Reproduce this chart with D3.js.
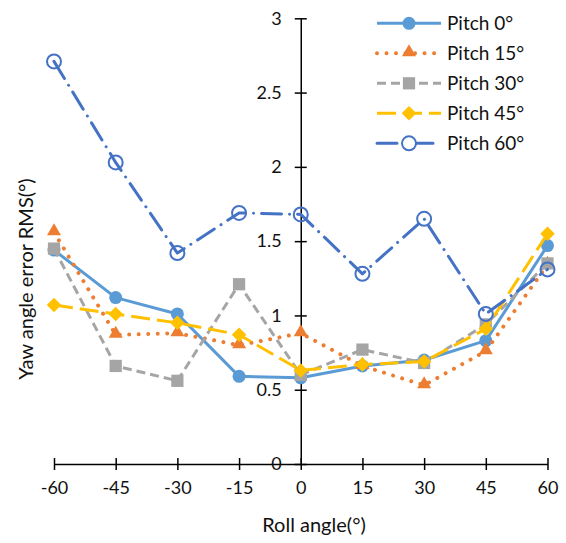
<!DOCTYPE html>
<html><head><meta charset="utf-8">
<script src="https://cdn.jsdelivr.net/npm/d3@7"></script>
<style>body{margin:0;background:#fff}svg{display:block}text{font-family:Lato,"Noto Sans",sans-serif;fill:#111}</style>
</head><body><svg id="c" width="566" height="543"></svg>
<script>
const rolls = [-60,-45,-30,-15,0,15,30,45,60];
const pitch0  = [1.44,1.12,1.01,0.59,0.58,0.66,0.70,0.83,1.47];
const pitch15 = [1.56,0.87,0.88,0.80,0.88,0.66,0.53,0.76,1.34];
const pitch30 = [1.45,0.66,0.56,1.21,0.60,0.77,0.68,0.94,1.35];
const pitch45 = [1.07,1.01,0.95,0.87,0.63,0.67,0.69,0.91,1.55];
const pitch60 = [2.71,2.03,1.42,1.69,1.68,1.28,1.65,1.01,1.31];
const seriesNames = ["Pitch 0°","Pitch 15°","Pitch 30°","Pitch 45°","Pitch 60°"];
const yTicks = [0,0.5,1,1.5,2,2.5,3];
const xTicks = rolls;

const svg = d3.select("#c");
const x = d3.scaleLinear().domain([-60,60]).range([54,547.5]);
const y = d3.scaleLinear().domain([0,3]).range([464,18.3]);

// axes
const xAxis = svg.append("g").attr("transform",`translate(0,${y(0)})`)
  .call(d3.axisBottom(x).tickValues(xTicks).tickSize(5).tickSizeOuter(0).tickFormat(d=>d));
xAxis.select(".domain").attr("stroke","#000").attr("stroke-width",1.5);
xAxis.selectAll(".tick line").attr("y1",-6).attr("y2",6).attr("stroke","#000").attr("stroke-width",1.5);
xAxis.selectAll(".tick text").attr("y",17).attr("font-size",18).attr("font-family","Lato");

const yAxis = svg.append("g").attr("transform",`translate(${x(0)},0)`)
  .call(d3.axisLeft(y).tickValues(yTicks).tickSize(5).tickSizeOuter(0).tickFormat(d=>d));
yAxis.select(".domain").attr("stroke","#000").attr("stroke-width",1.5);
yAxis.selectAll(".tick line").attr("x1",-6).attr("x2",6).attr("stroke","#000").attr("stroke-width",1.5);
yAxis.selectAll(".tick text").attr("x",-19).attr("font-size",18).attr("font-family","Lato");

// titles
svg.append("text").attr("x",314).attr("y",532).attr("text-anchor","middle").attr("font-size",20).text("Roll angle(°)");
svg.append("text").attr("transform","translate(33,279) rotate(-90)").attr("text-anchor","middle").attr("font-size",20).text("Yaw angle error RMS(°)");

const styles = [
  {c:"#5B9BD5", dash:null, w:3, cap:"butt", m:"circle"},
  {c:"#ED7D31", dash:"0.01 9.5", w:4, cap:"round", m:"triangle"},
  {c:"#A5A5A5", dash:"9 5", w:3, cap:"butt", m:"square"},
  {c:"#FFC000", dash:"19 7", w:3, cap:"butt", m:"diamond"},
  {c:"#4472C4", dash:"20 8 0.01 8", w:3, cap:"round", m:"open"}
];
const all = [pitch0,pitch15,pitch30,pitch45,pitch60];

function marker(g, type, c){
  if(type==="circle") g.append("circle").attr("r",6.5).attr("fill",c);
  else if(type==="triangle") g.append("path").attr("d",d3.symbol(d3.symbolTriangle,85)()).attr("fill",c).attr("transform","translate(0,-1)");
  else if(type==="square") g.append("path").attr("d",d3.symbol(d3.symbolSquare,150)()).attr("fill",c);
  else if(type==="diamond") g.append("path").attr("d",d3.symbol(d3.symbolSquare,105)()).attr("fill",c).attr("transform","rotate(45)");
  else g.append("circle").attr("r",7).attr("fill","none").attr("stroke",c).attr("stroke-width",2);
}

const line = d3.line().x(d=>x(d[0])).y(d=>y(d[1]));
all.forEach((vals,i)=>{
  const s = styles[i];
  const pts = rolls.map((r,k)=>[r,vals[k]]);
  const g = svg.append("g");
  g.append("path").attr("d",line(pts)).attr("fill","none").attr("stroke",s.c)
   .attr("stroke-width",s.w).attr("stroke-dasharray",s.dash).attr("stroke-linecap",s.cap).attr("stroke-linejoin","round");
  pts.forEach(p=>{
    const mg = g.append("g").attr("transform",`translate(${x(p[0])},${y(p[1])})`);
    marker(mg,s.m,s.c);
  });
});

// legend
const legY = [23.3,53.3,83.3,113.3,143.3];
seriesNames.forEach((n,i)=>{
  const s = styles[i];
  const g = svg.append("g").attr("transform",`translate(0,${legY[i]})`);
  g.append("line").attr("x1",377).attr("x2",441).attr("y1",0).attr("y2",0).attr("stroke",s.c)
   .attr("stroke-width",s.w).attr("stroke-dasharray",s.dash).attr("stroke-linecap",s.cap);
  const mg = g.append("g").attr("transform","translate(409,0)");
  if(s.m==="open") mg.append("circle").attr("r",7).attr("fill","#fff");
  marker(mg,s.m,s.c);
  g.append("text").attr("x",447).attr("y",7).attr("font-size",19).text(n);
});
</script></body></html>
